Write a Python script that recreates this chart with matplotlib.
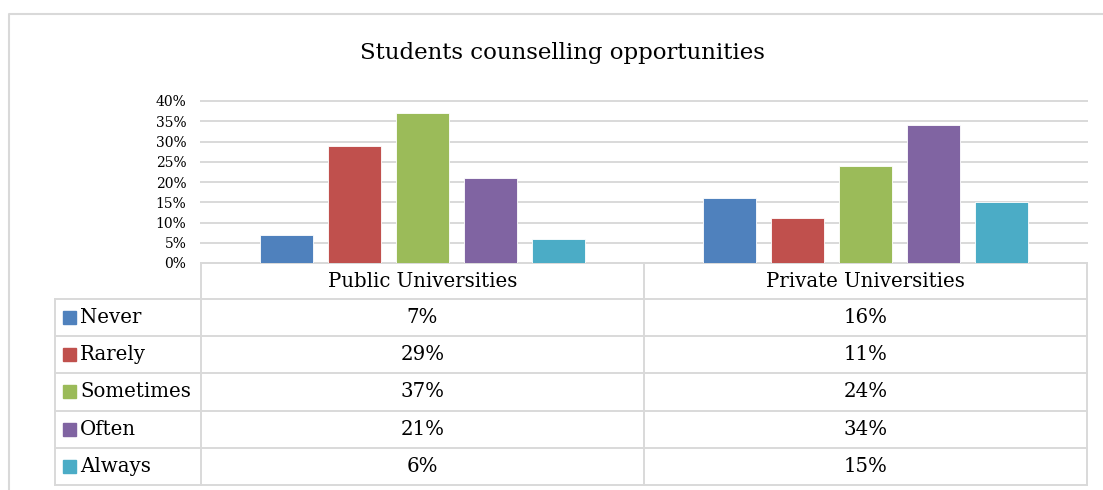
import matplotlib
matplotlib.use("Agg")
import matplotlib.pyplot as plt
import numpy as np

# ---- data ----
categories = ["Public Universities", "Private Universities"]
series_names = ["Never", "Rarely", "Sometimes", "Often", "Always"]
never = [0.07, 0.16]
rarely = [0.29, 0.11]
sometimes = [0.37, 0.24]
often = [0.21, 0.34]
always = [0.06, 0.15]
series_values = [never, rarely, sometimes, often, always]
colors = ["#4F81BD", "#C0504D", "#9BBB59", "#8064A2", "#4BACC6"]
yticks = [0, 0.05, 0.10, 0.15, 0.20, 0.25, 0.30, 0.35, 0.40]
title = "Students counselling opportunities"

plt.rcParams['font.family'] = ['DejaVu Serif']

W, H = 1103, 490
fig = plt.figure(figsize=(W / 100, H / 100), dpi=100)
grid_c = "#d9d9d9"

# layout (pixels)
plot_l, plot_r, plot_top, plot_bot = 201, 1087, 101, 263
tab_l = 55
row_edges = [263, 299, 336, 373, 410.5, 448, 484.5]

# background frame
bg = fig.add_axes([0, 0, 1, 1])
bg.set_xlim(0, W)
bg.set_ylim(H, 0)
bg.axis("off")
bg.plot([9, 9, W + 5], [H + 5, 14, 14], color=grid_c, lw=1.5)

bg.text(562, 53, title, ha="center", va="center", fontsize=16.5, color="#000000")

# bar chart
ax = fig.add_axes([plot_l / W, 1 - plot_bot / H, (plot_r - plot_l) / W, (plot_bot - plot_top) / H])
x = np.arange(len(categories))
step = 68 / 443
width = 53 / 443
for i, (vals, c) in enumerate(zip(series_values, colors)):
    ax.bar(x + (i - 2) * step, vals, width, color=c, edgecolor="white", linewidth=0.6, zorder=3)
ax.set_xlim(-0.5, 1.5)
ax.set_ylim(0, 0.40)
ax.set_yticks(yticks)
ax.set_yticklabels([f"{round(v * 100)}%" for v in yticks], fontsize=10)
ax.tick_params(axis="y", length=0, pad=10.5)
ax.set_xticks([])
ax.yaxis.grid(True, color=grid_c, lw=1.4, zorder=0)
for gl in ax.get_ygridlines():
    gl.set_clip_on(False)
for s in ["top", "right", "left"]:
    ax.spines[s].set_visible(False)
ax.spines["bottom"].set_color(grid_c)
ax.spines["bottom"].set_linewidth(1.4)
ax.set_facecolor("none")

# data table
col_edges = [plot_l, (plot_l + plot_r) / 2, plot_r]
lw = 1.4
bg.plot([plot_l, plot_r], [row_edges[0], row_edges[0]], color=grid_c, lw=lw)
for y in row_edges[1:]:
    bg.plot([tab_l, plot_r], [y, y], color=grid_c, lw=lw)
bg.plot([tab_l, tab_l], [row_edges[1], row_edges[-1]], color=grid_c, lw=lw)
for xe in col_edges:
    bg.plot([xe, xe], [row_edges[0], row_edges[-1]], color=grid_c, lw=lw)

fs = 14.2
for j, cat in enumerate(categories):
    cx = (col_edges[j] + col_edges[j + 1]) / 2
    bg.text(cx, (row_edges[0] + row_edges[1]) / 2, cat, ha="center", va="center", fontsize=fs)
for i, (name, vals, c) in enumerate(zip(series_names, series_values, colors)):
    cy = (row_edges[i + 1] + row_edges[i + 2]) / 2
    bg.add_patch(plt.Rectangle((63, cy - 6.5), 13, 13, color=c))
    bg.text(80, cy, name, ha="left", va="center", fontsize=fs)
    for j, v in enumerate(vals):
        cx = (col_edges[j] + col_edges[j + 1]) / 2
        bg.text(cx, cy, f"{round(v * 100)}%", ha="center", va="center", fontsize=fs)

fig.savefig("out.png", dpi=100)
